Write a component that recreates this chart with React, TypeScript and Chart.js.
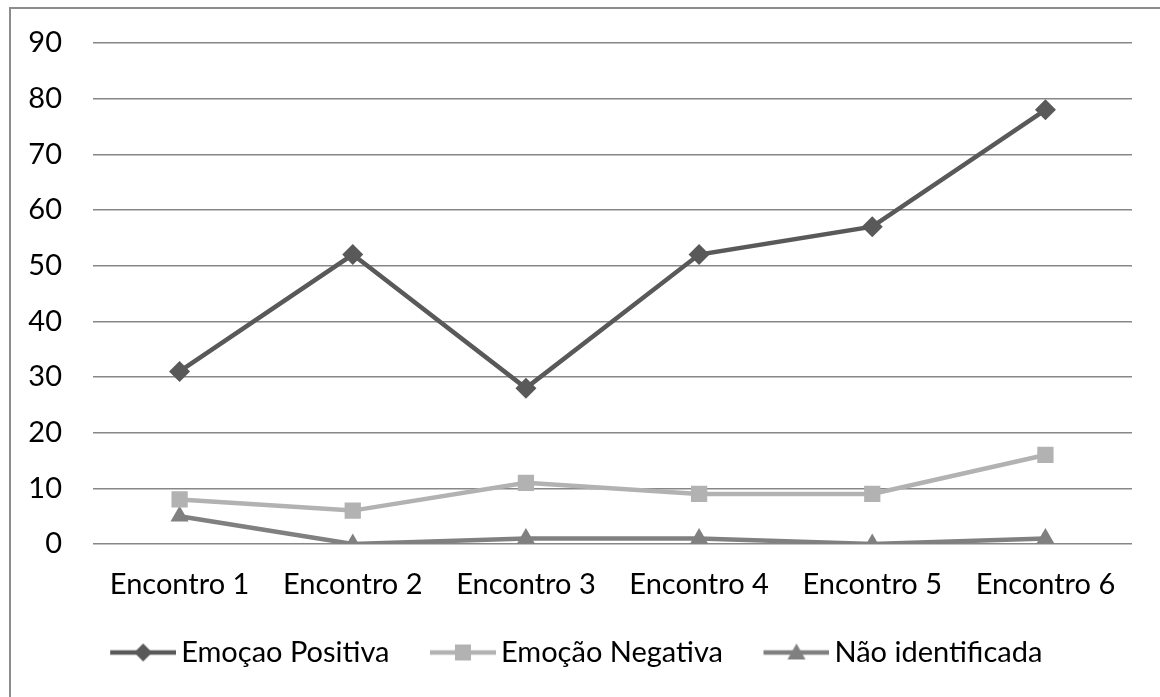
import React, { useEffect, useRef } from "react";
import { Chart, registerables } from "chart.js";

Chart.register(...registerables);

const categories = ["Encontro 1", "Encontro 2", "Encontro 3", "Encontro 4", "Encontro 5", "Encontro 6"];
const positiva = [31, 52, 28, 52, 57, 78];
const negativa = [8, 6, 11, 9, 9, 16];
const naoIdentificada = [5, 0, 1, 1, 0, 1];
const seriesNames = ["Emoçao Positiva", "Emoção Negativa", "Não identificada"];
const yMin = 0;
const yMax = 90;
const yStep = 10;

const FONT = "Lato";
const FS = 29;
const COLORS = ["#595959", "#b2b2b2", "#808080"];
const STYLES = ["rectRot", "rect", "triangle"];
const ICON_LINE = 66;
const ICON_MARGIN = 16;

function makeIcon(color: string, style: string): HTMLCanvasElement {
  const c = document.createElement("canvas");
  c.width = ICON_LINE + ICON_MARGIN;
  c.height = 20;
  const ctx = c.getContext("2d")!;
  ctx.strokeStyle = color;
  ctx.lineWidth = 4.5;
  ctx.beginPath();
  ctx.moveTo(ICON_MARGIN, 10);
  ctx.lineTo(ICON_MARGIN + ICON_LINE, 10);
  ctx.stroke();
  ctx.fillStyle = color;
  ctx.beginPath();
  const cx = ICON_MARGIN + ICON_LINE / 2, cy = 10;
  if (style === "rectRot") {
    ctx.moveTo(cx, cy - 9);
    ctx.lineTo(cx + 9, cy);
    ctx.lineTo(cx, cy + 9);
    ctx.lineTo(cx - 9, cy);
  } else if (style === "rect") {
    ctx.rect(cx - 8, cy - 8, 16, 16);
  } else {
    ctx.moveTo(cx, cy - 9);
    ctx.lineTo(cx + 9, cy + 7);
    ctx.lineTo(cx - 9, cy + 7);
  }
  ctx.closePath();
  ctx.fill();
  return c;
}

export default function App() {
  const ref = useRef<HTMLCanvasElement | null>(null);

  useEffect(() => {
    const icons = COLORS.map((c, i) => makeIcon(c, STYLES[i]));
    const values = [positiva, negativa, naoIdentificada];
    const radii = [10.5, 11.5, 10.5];
    const chart = new Chart(ref.current!, {
      type: "line",
      data: {
        labels: categories,
        datasets: values.map((v, i) => ({
          label: seriesNames[i],
          data: v,
          borderColor: COLORS[i],
          backgroundColor: COLORS[i],
          borderWidth: 4.5,
          pointStyle: STYLES[i] as any,
          pointRadius: radii[i],
          pointBorderWidth: 0,
          pointBackgroundColor: COLORS[i],
          tension: 0,
          fill: false,
        })),
      },
      options: {
        responsive: false,
        animation: false,
        devicePixelRatio: 1,
        layout: { padding: { left: 14, right: 28, top: 43, bottom: 20 } },
        scales: {
          x: {
            type: "category",
            offset: true,
            grid: { display: false, drawTicks: false },
            border: { display: false },
            ticks: { color: "#000", font: { family: FONT, size: FS }, padding: 23, maxRotation: 0, autoSkip: false },
            afterFit: (s: any) => { s.height = 60; },
          },
          y: {
            min: yMin,
            max: yMax,
            grid: { color: "#878787", lineWidth: 1.5, drawTicks: false },
            border: { display: false },
            ticks: { stepSize: yStep, color: "#000", font: { family: FONT, size: FS }, padding: 31 },
            afterFit: (s: any) => {
              s.width = 79;
              s.paddingTop = 0;
              s.paddingBottom = 0;
            },
          },
        },
        plugins: {
          tooltip: { enabled: false },
          legend: {
            position: "bottom",
            labels: {
              usePointStyle: true,
              pointStyleWidth: 76 + ICON_MARGIN - FS,
              boxHeight: FS,
              padding: 34,
              color: "#000",
              font: { family: FONT, size: FS },
              generateLabels: (ch: any) => {
                const base = Chart.defaults.plugins.legend.labels.generateLabels(ch);
                return base.map((l: any, i: number) => ({ ...l, pointStyle: icons[i] }));
              },
            },
          },
        },
      },
    });
    return () => chart.destroy();
  }, []);

  return (
    <div style={{ position: "fixed", left: 0, top: 0, width: 1160, height: 697, overflow: "hidden", background: "#fff" }}>
      <div style={{ position: "absolute", left: 9, top: 7, width: 1300, height: 900, borderLeft: "2px solid #8c8c8c", borderTop: "2px solid #8c8c8c", boxSizing: "border-box" }} />
      <canvas ref={ref} width={1160} height={697} style={{ position: "absolute", left: 0, top: 0 }} />
    </div>
  );
}
